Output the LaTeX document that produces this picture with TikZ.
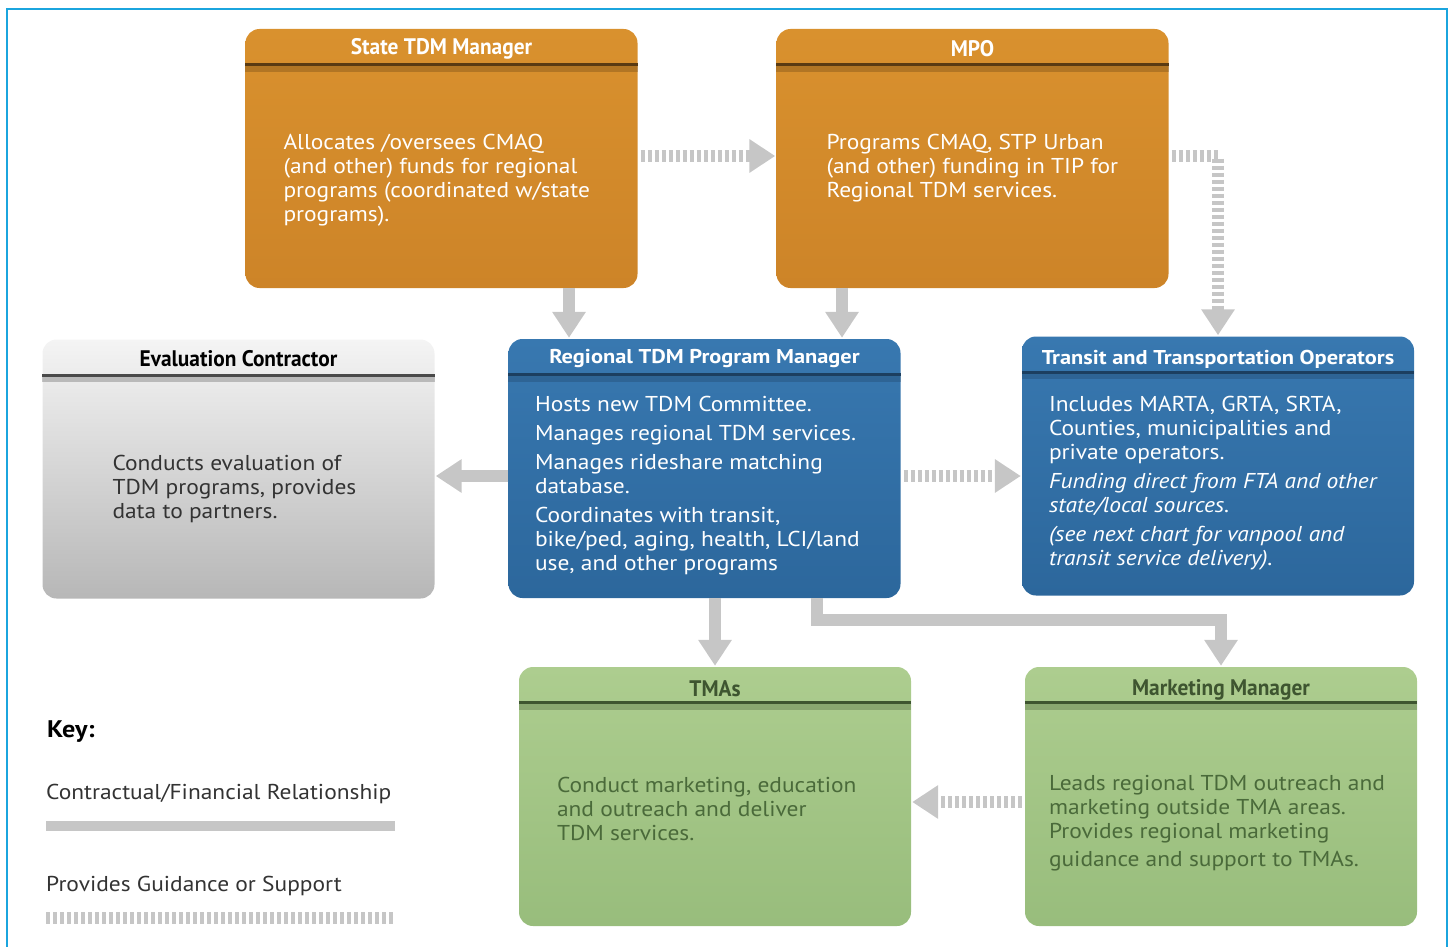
\documentclass[tikz,border=0pt]{standalone}
\usepackage{fontspec}
\setmainfont{PT Sans}[FakeStretch=1.09]
\newfontfamily\condfont[FakeStretch=0.95]{PT Sans}
\newfontfamily\widefont[FakeStretch=1.12]{PT Sans}
\usetikzlibrary{arrows.meta,calc}

\definecolor{keygray}{HTML}{C6C6C6}
\definecolor{framecyan}{HTML}{1BA5DE}
\definecolor{orangetop}{HTML}{D9912E}
\definecolor{orangebot}{HTML}{CD8428}
\definecolor{orangeline}{HTML}{5A3A12}
\definecolor{bluetop}{HTML}{3878B0}
\definecolor{bluebot}{HTML}{2C679C}
\definecolor{blueline}{HTML}{1C3F60}
\definecolor{graytop}{HTML}{F4F4F4}
\definecolor{graybot}{HTML}{B7B7B7}
\definecolor{grayline}{HTML}{4A4A4A}
\definecolor{greentop}{HTML}{ADCD8F}
\definecolor{greenbot}{HTML}{98BD7C}
\definecolor{greenline}{HTML}{3E5530}
\definecolor{greentext}{HTML}{4A6A3A}
\definecolor{graytext}{HTML}{333333}

\tikzset{
  box/.style={rounded corners=14pt, minimum width=392pt, minimum height=259pt, inner sep=0pt},
  orangebox/.style={box, top color=orangetop, bottom color=orangebot},
  bluebox/.style={box, top color=bluetop, bottom color=bluebot},
  graybox/.style={box, top color=graytop, bottom color=graybot},
  greenbox/.style={box, top color=greentop, bottom color=greenbot},
  condtitle/.style={inner sep=0pt, font=\condfont\bfseries\fontsize{22.5}{24}\selectfont},
  bluetitle/.style={inner sep=0pt, white, font=\widefont\bfseries\fontsize{20}{22}\selectfont},
  body/.style={inner sep=0pt, anchor=west, align=left, font=\fontsize{21.5}{24}\selectfont},
  contract/.style={draw=keygray, line width=12pt, shorten >=1pt,
    -{Triangle[width=32pt,length=26pt]}},
  guide/.style={draw=keygray, line width=12pt, dash pattern=on 4pt off 3pt,
    shorten <=3pt, shorten >=1pt, -{Triangle[width=32pt,length=26pt]}},
}

\begin{document}
\begin{tikzpicture}[x=1pt,y=-1pt]
  \useasboundingbox (0,0) rectangle (1452,947);
  \draw[framecyan, line width=2.5pt] (7,9) rectangle (1447,990);

  % boxes
  \node[orangebox] (state) at (441.5,158.5) {};
  \node[orangebox] (mpo) at (972.5,158.5) {};
  \node[graybox] (eval) at (238.5,469) {};
  \node[bluebox] (regional) at (704.5,468.5) {};
  \node[bluebox] (transit) at (1218,466) {};
  \node[greenbox] (tmas) at (715,796.5) {};
  \node[greenbox] (market) at (1221,796.5) {};

  % header rules
  \foreach \b/\c in {state/orangeline, mpo/orangeline, eval/grayline, regional/blueline,
                     transit/blueline, tmas/greenline, market/greenline} {
    \draw[\c, line width=6pt, opacity=0.3] ($(\b.north west)+(0,40)$) -- ($(\b.north east)+(0,40)$);
    \draw[\c, line width=3pt] ($(\b.north west)+(0,36)$) -- ($(\b.north east)+(0,36)$);
  }

  % titles
  \node[condtitle, white] (state-t) at ($(state.north)+(0,20)$) {State TDM Manager};
  \node[condtitle, white] (mpo-t) at ($(mpo.north)+(0,20)$) {MPO};
  \node[condtitle, black] (eval-t) at ($(eval.north)+(0,19)$) {Evaluation Contractor};
  \node[bluetitle] (regional-t) at ($(regional.north)+(0,20)$) {Regional TDM Program Manager};
  \node[bluetitle] (transit-t) at ($(transit.north)+(0,23)$) {Transit and Transportation Operators};
  \node[condtitle, greenline] (tmas-t) at ($(tmas.north)+(0,22)$) {TMAs};
  \node[condtitle, greenline] (market-t) at ($(market.north)+(0,23)$) {Marketing Manager};

  % texts
  \node[body, white] (state-b) at ($(state.west)+(38,22)$)
    {Allocates /oversees CMAQ\\(and other) funds for regional\\programs (coordinated w/state\\programs).};
  \node[body, white] (mpo-b) at ($(mpo.west)+(50,10)$)
    {Programs CMAQ, STP Urban\\(and other) funding in TIP for\\Regional TDM services.};
  \node[body, graytext] (eval-b) at ($(eval.west)+(70,20)$)
    {Conducts evaluation of\\TDM programs, provides\\data to partners.};
  \node[body, white] (regional-b) at ($(regional.west)+(26.5,17)$)
    {Hosts new TDM Committee.\\[5pt]Manages regional TDM services.\\[5pt]Manages rideshare matching\\database.\\[5pt]Coordinates with transit,\\bike/ped, aging, health, LCI/land\\use, and other programs};
  \node[body, white] (transit-b) at ($(transit.west)+(27,17.5)$)
    {Includes MARTA, GRTA, SRTA,\\Counties, municipalities and\\private operators.\\[5pt]\itshape Funding direct from FTA and other\\\itshape state/local sources.\\[5pt]\itshape (see next chart for vanpool and\\\itshape transit service delivery).};
  \node[body, greentext] (tmas-b) at ($(tmas.west)+(38,12.5)$)
    {Conduct marketing, education\\and outreach and deliver\\TDM services.};
  \node[body, greentext] (market-b) at ($(market.west)+(24,26.5)$)
    {Leads regional TDM outreach and\\marketing outside TMA areas.\\Provides regional marketing\\[4pt]guidance and support to TMAs.};

  % contractual / financial
  \draw[contract] ([xshift=127.5pt]state.south) -- ([xshift=127.5pt]state.south |- regional.north);
  \draw[contract] ([xshift=-130.5pt]mpo.south) -- ([xshift=-130.5pt]mpo.south |- regional.north);
  \draw[contract] ([yshift=-7.5pt]regional.west) -- ([yshift=-7.5pt]regional.west -| eval.east);
  \draw[contract] (regional.south -| tmas.north) -- (tmas.north);
  \draw[contract] ([xshift=112.5pt]regional.south) -- ++(0,22) -| (market.north);

  % guidance / support
  \draw[guide] ([yshift=2.5pt]state.east) -- ([yshift=2.5pt]state.east -| mpo.west);
  \draw[guide] ([yshift=2.5pt]mpo.east) -| (transit.north);
  \draw[guide] ([yshift=-7.5pt]regional.east) -- ([yshift=-7.5pt]regional.east -| transit.west);
  \draw[guide] ([yshift=-5.5pt]market.west) -- ([yshift=-5.5pt]market.west -| tmas.east);

  % key
  \node[inner sep=0pt, anchor=west, font=\bfseries\fontsize{24}{26}\selectfont] (key) at (47,732) {Key:};
  \node[body, graytext] (key-c) at (46,794) {Contractual/Financial Relationship};
  \node[body, graytext] (key-g) at (46,886) {Provides Guidance or Support};
  \draw[keygray, line width=10pt] (46,826) -- (395,826);
  \draw[keygray, line width=12pt, dash pattern=on 4pt off 3pt] (46,918) -- (395,918);
\end{tikzpicture}
\end{document}
